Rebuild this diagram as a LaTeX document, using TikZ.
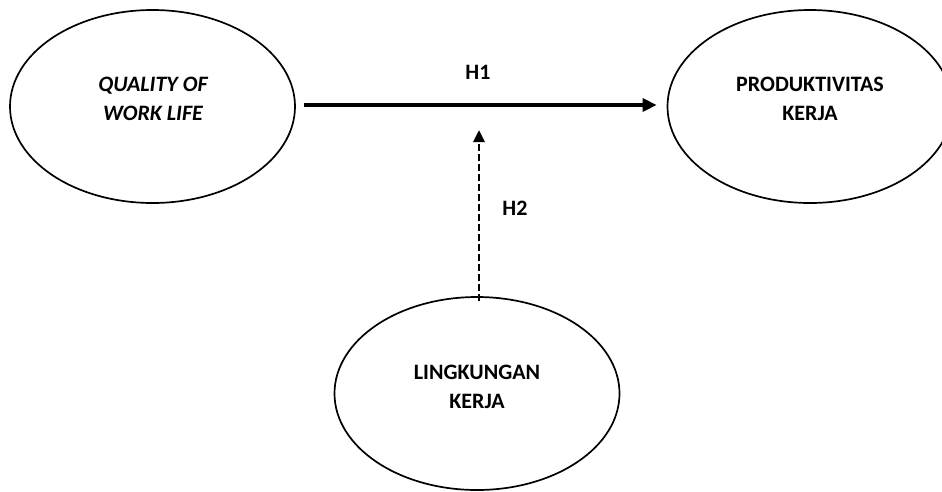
\documentclass[tikz,border=0pt]{standalone}
\usepackage{fontspec}
\setmainfont{Carlito}
\usetikzlibrary{arrows.meta,shapes.geometric}
\begin{document}
\begin{tikzpicture}[x=1pt,y=-1pt,
  oval/.style={draw, line width=1.7pt, ellipse, minimum width=285pt, minimum height=193pt, inner sep=0pt},
  lbl/.style={font=\fontsize{22}{28.5}\selectfont\bfseries, align=center},
  mainarrow/.style={line width=3.4pt, -{Triangle[length=14pt,width=13pt]}},
  dasharrow/.style={line width=2.8pt, dash pattern=on 7pt off 3pt, -{Triangle[length=12pt,width=11pt]}}]
\useasboundingbox (0,0) rectangle (942,491);
\node[oval] (qwl) at (152.5,106.5) {};
\node[oval] (prod) at (810,106.5) {};
\node[oval] (ling) at (477,393.5) {};
\node[lbl, font=\fontsize{22}{28.5}\selectfont\bfseries\itshape] (qwlt) at (153,99) {QUALITY OF\\WORK LIFE};
\node[lbl] (prodt) at (810,99) {PRODUKTIVITAS\\KERJA};
\node[lbl] (lingt) at (477,387) {LINGKUNGAN\\KERJA};
\coordinate (tip) at (479,130);
\draw[mainarrow] ([xshift=8pt,yshift=1.5pt]qwl.east) -- ([xshift=-10pt,yshift=1.5pt]prod.west);
\draw[dasharrow] ([yshift=-5pt]ling.north -| tip) -- (tip);
\node[lbl] (h1) at (478,72) {H1};
\node[lbl] (h2) at (515,208) {H2};
\end{tikzpicture}
\end{document}
